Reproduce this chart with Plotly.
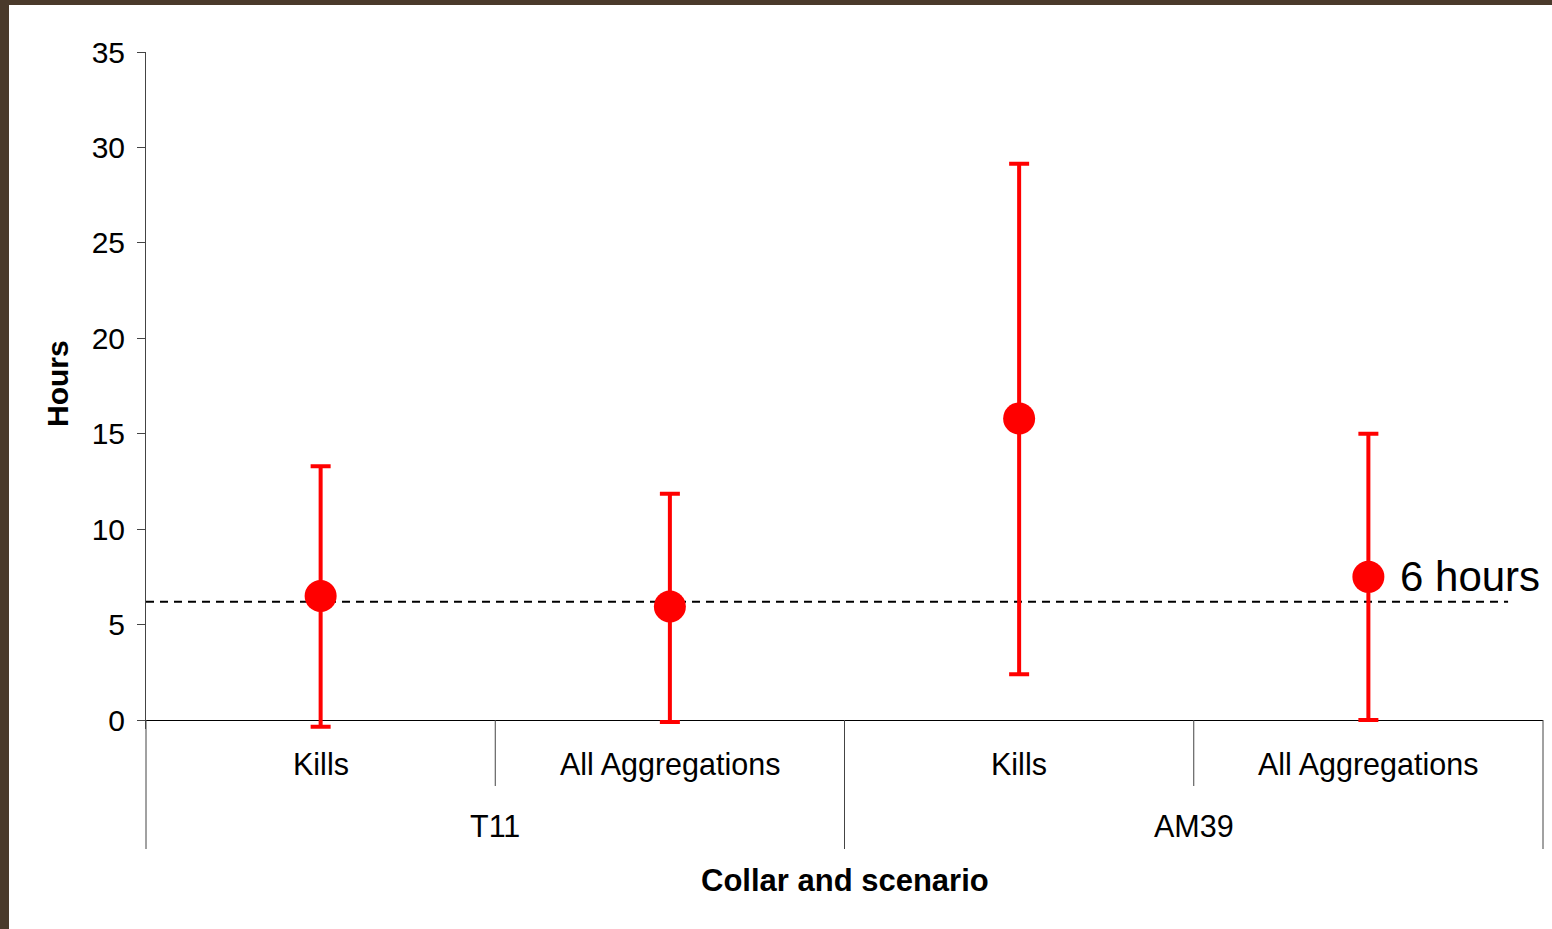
import plotly.graph_objects as go

# ---- data ----
scenarios = ["Kills", "All Aggregations", "Kills", "All Aggregations"]
collars = ["T11", "AM39"]
mean_hours = [6.5, 5.95, 15.8, 7.5]
upper_hours = [13.3, 11.85, 29.15, 15.0]
lower_hours = [-0.35, -0.1, 2.4, 0.0]
threshold_hours = 6.2
y_ticks = [0, 5, 10, 15, 20, 25, 30, 35]

FONT = "Liberation Sans, Arial, sans-serif"
W, H = 1552, 929
ML, MR, MT, MB = 146, 9, 52, 200
PW, PH = W - ML - MR, H - MT - MB


def px_x(p):
    return (p - ML) / PW


def px_y(p):
    return (H - MB - p) / PH


xs = list(range(len(scenarios)))
err_plus = [u - m for u, m in zip(upper_hours, mean_hours)]
err_minus = [m - l for m, l in zip(mean_hours, lower_hours)]

fig = go.Figure()
fig.add_trace(go.Scatter(
    x=xs, y=mean_hours, mode="markers",
    marker=dict(size=32, color="#FF0000"),
    error_y=dict(type="data", symmetric=False, array=err_plus, arrayminus=err_minus,
                 color="#FF0000", thickness=4, width=10),
    cliponaxis=False, showlegend=False, hoverinfo="skip",
))

shapes = []
# white slide area over brown background
shapes.append(dict(type="rect", xref="paper", yref="paper",
                   x0=px_x(9), x1=px_x(W + 20), y0=px_y(H + 20), y1=px_y(5),
                   fillcolor="white", line=dict(width=0), layer="below"))
# threshold dashed line
shapes.append(dict(type="line", xref="x", yref="y", x0=-0.5, x1=3.4,
                   y0=threshold_hours, y1=threshold_hours,
                   line=dict(color="black", width=2, dash="8px,6px"), layer="below"))
# dividers
n = len(scenarios)
def dpaper(d):
    return (d + 0.5) / n
for d in [0.5, 2.5]:
    shapes.append(dict(type="line", xref="paper", yref="paper", x0=dpaper(d), x1=dpaper(d),
                       y0=px_y(720), y1=px_y(786), line=dict(color="#444", width=1)))
for d in [-0.5, 1.5, 3.5]:
    shapes.append(dict(type="line", xref="paper", yref="paper", x0=dpaper(d), x1=dpaper(d),
                       y0=px_y(720), y1=px_y(849), line=dict(color="#444", width=1)))

annotations = []
for i, s in enumerate(scenarios):
    annotations.append(dict(x=i, y=px_y(764), xref="x", yref="paper", text=s, showarrow=False,
                            font=dict(family=FONT, size=30.5, color="black"),
                            xanchor="center", yanchor="middle"))
for g, c in enumerate(collars):
    annotations.append(dict(x=2 * g + 0.5, y=px_y(826), xref="x", yref="paper", text=c,
                            showarrow=False, font=dict(family=FONT, size=30.5, color="black"),
                            xanchor="center", yanchor="middle"))
annotations.append(dict(x=1.5, y=px_y(880), xref="x", yref="paper", text="<b>Collar and scenario</b>",
                        showarrow=False, font=dict(family=FONT, size=31, color="black"),
                        xanchor="center", yanchor="middle"))
annotations.append(dict(x=px_x(57), y=px_y(383), xref="paper", yref="paper", text="<b>Hours</b>",
                        showarrow=False, textangle=-90, font=dict(family=FONT, size=30, color="black"),
                        xanchor="center", yanchor="middle"))
annotations.append(dict(x=3.085, y=7.5, xref="x", yref="y", text="6 hours", showarrow=False,
                        font=dict(family=FONT, size=42, color="black"),
                        xanchor="left", yanchor="middle"))

y_bottom = -(729 - 720) / ((720 - 52) / 35)

fig.update_layout(
    width=W, height=H,
    margin=dict(l=ML, r=MR, t=MT, b=MB, pad=0),
    paper_bgcolor="#4a3a2b",
    plot_bgcolor="rgba(0,0,0,0)",
    shapes=shapes,
    annotations=annotations,
    showlegend=False,
    xaxis=dict(range=[-0.5, 3.5], showticklabels=False, showgrid=False, zeroline=False,
               showline=False, ticks="", fixedrange=True),
    yaxis=dict(range=[y_bottom, 35], tickvals=y_ticks, ticktext=[str(t) for t in y_ticks],
               showgrid=False, zeroline=True, zerolinecolor="black", zerolinewidth=1,
               showline=True, linecolor="#444", linewidth=1,
               ticks="outside", ticklen=8, tickcolor="#444", tickwidth=1,
               tickfont=dict(family=FONT, size=30, color="black"), ticklabelstandoff=6,
               fixedrange=True),
)

fig.write_html(
    "out.html",
    config={"displayModeBar": False, "staticPlot": True},
    post_script="document.body.style.margin='0';document.body.style.overflow='hidden';",
)
